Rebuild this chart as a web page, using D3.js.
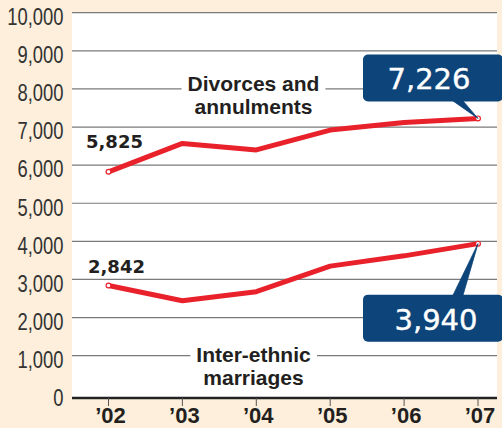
<!DOCTYPE html>
<html>
<head>
<meta charset="utf-8">
<script src="https://cdn.jsdelivr.net/npm/d3@7"></script>
<style>
  html, body { margin: 0; padding: 0; background: #fdefdb; }
  svg { display: block; }
</style>
</head>
<body>
<div id="chart"></div>
<script>
const years = ["’02", "’03", "’04", "’05", "’06", "’07"]
const divorces = [5825, 6570, 6400, 6920, 7120, 7226]
const interEthnic = [2842, 2440, 2680, 3350, 3620, 3940]
const yTicks = [0, 1000, 2000, 3000, 4000, 5000, 6000, 7000, 8000, 9000, 10000]

const width = 502
const height = 428
const plot = { left: 72, right: 497, top: 12.7, bottom: 398 }

const svg = d3.select("#chart")
  .append("svg")
  .attr("width", width)
  .attr("height", height)

const x = d3.scalePoint()
  .domain(years)
  .range([108.5, 478])

const y = d3.scaleLinear()
  .domain([0, 10000])
  .range([393.8, 12.7])

const fmt = d3.format(",")
const red = "#e8212b"
const navy = "#0d4479"
const ink = "#231f20"

// white plot panel
svg.append("rect")
  .attr("x", plot.left)
  .attr("y", plot.top)
  .attr("width", plot.right - plot.left)
  .attr("height", plot.bottom - plot.top)
  .attr("fill", "#fff")

// GRIDLINES
svg.append("g")
  .selectAll("line")
  .data(yTicks.filter(d => d > 0))
  .enter()
  .append("line")
  .attr("x1", plot.left)
  .attr("x2", plot.right)
  .attr("y1", d => y(d))
  .attr("y2", d => y(d))
  .attr("stroke", "#7a7a7a")
  .attr("stroke-width", 1.2)

// Y TICK LABELS - condensed by horizontal squeeze
svg.append("g")
  .selectAll("text")
  .data(yTicks)
  .enter()
  .append("text")
  .attr("transform", d => "translate(63.5," + (y(d) + 12.3) + ") scale(0.8,1)")
  .attr("text-anchor", "end")
  .style("font-family", "'Liberation Sans', Arial, sans-serif")
  .style("font-size", "23px")
  .attr("fill", "#333")
  .text(d => fmt(d))

// BASELINE AXIS
svg.append("line")
  .attr("x1", plot.left)
  .attr("x2", plot.right)
  .attr("y1", plot.bottom)
  .attr("y2", plot.bottom)
  .attr("stroke", "#222")
  .attr("stroke-width", 2.6)

svg.append("g")
  .selectAll("line")
  .data(years)
  .enter()
  .append("line")
  .attr("x1", d => x(d))
  .attr("x2", d => x(d))
  .attr("y1", plot.bottom)
  .attr("y2", plot.bottom + 8)
  .attr("stroke", "#555")
  .attr("stroke-width", 1)

svg.append("g")
  .selectAll("text")
  .data(years)
  .enter()
  .append("text")
  .attr("x", d => x(d) + 2)
  .attr("y", 423)
  .attr("text-anchor", "middle")
  .style("font-family", "'Liberation Sans', Arial, sans-serif")
  .style("font-size", "22px")
  .style("font-weight", "bold")
  .attr("fill", ink)
  .text(d => d)

// SERIES LABELS (with gaps in gridlines)
function seriesLabel(lines, cx, baseline) {
  const g = svg.append("g")
  const t = g.append("text")
    .attr("text-anchor", "middle")
    .style("font-family", "'Liberation Sans', Arial, sans-serif")
    .style("font-size", "21px")
    .style("font-weight", "bold")
    .attr("fill", ink)
  lines.forEach((s, i) => {
    t.append("tspan").attr("x", cx).attr("y", baseline + i * 23).text(s)
  })
  const bb = t.node().getBBox()
  g.insert("rect", "text")
    .attr("x", bb.x - 6)
    .attr("y", bb.y)
    .attr("width", bb.width + 12)
    .attr("height", bb.height)
    .attr("fill", "#fff")
}
seriesLabel(["Divorces and", "annulments"], 253.5, 91)
seriesLabel(["Inter-ethnic", "marriages"], 253.5, 362)

// LINES
const line = d3.line()
  .x((d, i) => x(years[i]))
  .y(d => y(d))

;[divorces, interEthnic].forEach(series => {
  svg.append("path")
    .datum(series)
    .attr("d", line)
    .attr("fill", "none")
    .attr("stroke", red)
    .attr("stroke-width", 5)
    .attr("stroke-linejoin", "round")
})

// END POINT MARKERS
;[divorces, interEthnic].forEach(series => {
  const ends = [0, series.length - 1]
  svg.append("g")
    .selectAll("circle")
    .data(ends)
    .enter()
    .append("circle")
    .attr("cx", i => x(years[i]))
    .attr("cy", i => y(series[i]))
    .attr("r", 2.4)
    .attr("fill", "#fff")
    .attr("stroke", red)
    .attr("stroke-width", 1.2)
})

// FIRST VALUE LABELS
const startLabels = [
  { v: divorces[0], x: 86, y: y(divorces[0]) - 24 },
  { v: interEthnic[0], x: 88, y: y(interEthnic[0]) - 12.5 }
]
svg.append("g")
  .selectAll("text")
  .data(startLabels)
  .enter()
  .append("text")
  .attr("x", d => d.x)
  .attr("y", d => d.y)
  .style("font-family", "'DejaVu Sans', sans-serif")
  .style("font-size", "18px")
  .style("font-weight", "bold")
  .attr("fill", ink)
  .text(d => fmt(d.v))

// CALLOUTS
function callout(v, above) {
  const px = x(years[years.length - 1])
  const py = y(v)
  const g = svg.append("g")
  const bx = px - 115
  const bw = 140
  const bh = 47
  const by = above ? py - 64 : py + 51
  g.append("rect")
    .attr("x", bx)
    .attr("y", by)
    .attr("width", bw)
    .attr("height", bh)
    .attr("rx", 5)
    .attr("fill", navy)
  const baseY = above ? by + bh - 0.5 : by + 0.5
  g.append("path")
    .attr("d", "M" + (px - 25) + "," + baseY + "L" + (px - 15) + "," + baseY + "L" + px + "," + py + "Z")
    .attr("fill", navy)
    .attr("stroke", navy)
    .attr("stroke-width", 0.8)
    .attr("stroke-linejoin", "round")
  g.append("text")
    .attr("x", bx + (above ? 66 : 73))
    .attr("y", by + 35)
    .attr("text-anchor", "middle")
    .style("font-family", "'DejaVu Sans', sans-serif")
    .style("font-size", "29px")
    .attr("fill", "#fff")
    .attr("stroke", "#fff")
    .attr("stroke-width", 0.4)
    .text(fmt(v))
}
callout(divorces[divorces.length - 1], true)
callout(interEthnic[interEthnic.length - 1], false)
</script>
</body>
</html>
